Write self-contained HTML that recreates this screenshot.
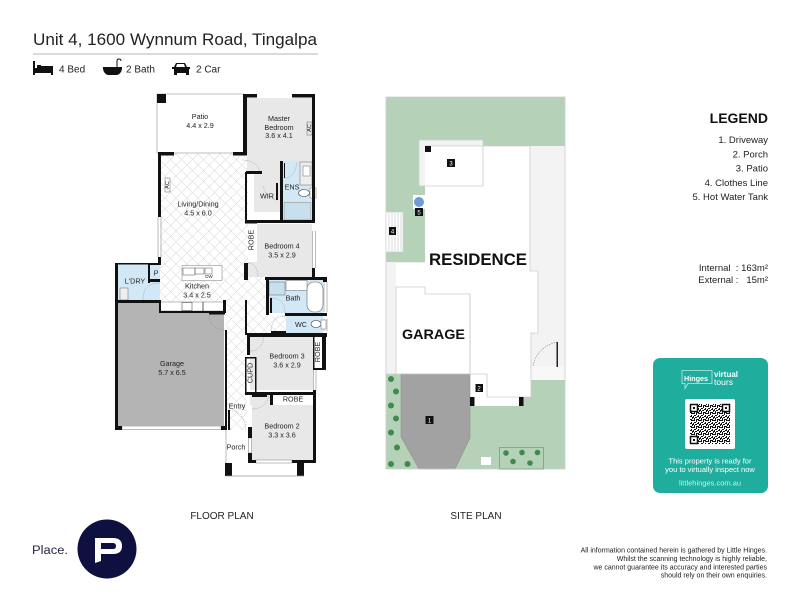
<!DOCTYPE html>
<html><head><meta charset="utf-8"><style>html,body{margin:0;padding:0;background:#fff}svg{display:block}text{font-family:"Liberation Sans",sans-serif;fill:#222;white-space:pre}</style></head><body>
<svg width="800" height="600" viewBox="0 0 800 600" xmlns="http://www.w3.org/2000/svg">
<defs>
<pattern id="tile" width="11" height="11" patternUnits="userSpaceOnUse"><rect width="11" height="11" fill="#fff"/><path d="M0 0L11 11M11 0L0 11" stroke="#dcdcdc" stroke-width=".6"/></pattern>
<pattern id="qr" width="7" height="7" patternUnits="userSpaceOnUse"><rect width="7" height="7" fill="#fff"/><path d="M0 0h2v1H0zM3 0h1v2H3zM5 0h2v1H5zM1 2h2v1H1zM5 2h1v2H5zM0 3h1v2H0zM2 4h2v1H2zM6 4h1v2H6zM1 5h1v2H1zM3 6h3v1H3zM4 3h1v1H4z" fill="#111"/></pattern>
</defs>
<rect width="800" height="600" fill="#fff"/>

<!-- Header -->
<text x="33" y="45" font-size="17" textLength="284" lengthAdjust="spacingAndGlyphs">Unit 4, 1600 Wynnum Road, Tingalpa</text>
<rect x="33" y="53.500" width="285" height="1" fill="#b5b5b5"/>
<g fill="#111">
<path d="M33 61h2v7h18v7h-2v-2H35v2h-2zM37 65h4v3h-4z"/><rect x="41" y="66" width="12" height="3"/>
<path d="M103 67h19v2q-1 5-5 6h-9q-4-1-5-6z"/><path d="M117 67v-6q0-2 2-2t2 2" fill="none" stroke="#111"/>
<path d="M172 67h2l2-4h9l2 4h3v2h-1v6h-3v-2h-9v2h-3v-6h-2zM177 64l-1 3h9l-1-3z" fill-rule="evenodd"/>
</g>
<g font-size="10">
<text x="59" y="72.500">4 Bed</text><text x="126" y="72.500">2 Bath</text><text x="196" y="72.500">2 Car</text>
</g>

<!-- Floor plan fills -->
<rect x="160" y="153" width="88" height="150" fill="url(#tile)"/>
<rect x="226" y="300" width="21" height="130" fill="url(#tile)"/>
<rect x="247" y="277" width="20" height="58" fill="url(#tile)"/>
<rect x="267" y="315" width="19" height="20" fill="url(#tile)"/>
<rect x="247" y="98" width="65" height="63" fill="#e8e8e8"/>
<rect x="247" y="161" width="34" height="11" fill="#e8e8e8"/>
<rect x="254" y="172" width="27" height="40" fill="#e8e8e8"/>
<rect x="283" y="161" width="29" height="41" fill="#d3e8f6"/>
<rect x="284" y="202.500" width="27" height="17.500" fill="#c8dfee" stroke="#888" stroke-width=".6"/>
<rect x="257" y="224" width="55" height="53" fill="#e8e8e8"/>
<rect x="248" y="262" width="10" height="15" fill="#e8e8e8"/>
<rect x="118" y="264" width="42" height="36" fill="#d3e8f6"/>
<rect x="118" y="303" width="106" height="123" fill="#b4b4b4"/>
<rect x="269" y="280" width="54" height="33" fill="#d3e8f6"/>
<rect x="286" y="316" width="37" height="17" fill="#d3e8f6"/>
<rect x="250" y="337" width="63" height="53" fill="#e8e8e8"/>
<rect x="252" y="405" width="61" height="55" fill="#e8e8e8"/>
<rect x="250" y="395" width="20" height="10" fill="#e8e8e8"/>

<!-- Outlines thin -->
<g fill="none" stroke="#aaa" stroke-width=".8">
<path d="M157 94H244M157 94V153M158 217V257M161 217V257M157 153H243"/>
<path d="M226 430V476"/>
<rect x="182" y="265.500" width="40" height="15" fill="#fff"/>
<rect x="183" y="268" width="12" height="7" stroke="#555" stroke-width=".5"/><rect x="195" y="268" width="9" height="6" stroke="#555" stroke-width=".5"/><rect x="205" y="268" width="7" height="6" stroke="#555" stroke-width=".5"/>
<rect x="160" y="302" width="64" height="9" fill="#fff"/>
<rect x="182" y="302.500" width="10" height="8" stroke="#555" stroke-width=".6"/>
<path d="M203 302V311" stroke="#333"/>
<rect x="122" y="426" width="99" height="3.500" fill="#fff"/>
<path d="M312.500 231V268M315.500 231V268M324 282V312M327 282V312M324 319V331M327 319V331M313.500 369V390M316 369V390"/>
<rect x="300" y="162" width="12" height="23" stroke="#999" fill="#eee"/>
<rect x="303" y="166" width="7" height="10" stroke="#666" stroke-width=".5" fill="#fff"/>
<ellipse cx="304" cy="193" rx="5.500" ry="3.500" stroke="#333" stroke-width=".6" fill="#fff"/>
<rect x="310" y="188" width="6" height="10" stroke="#777" stroke-width=".5" fill="#fff"/>
<rect x="307" y="122" width="5" height="13" stroke="#666" stroke-width=".5"/>
<rect x="165" y="178" width="5" height="14" stroke="#666" stroke-width=".5"/>
<rect x="120" y="288" width="8" height="12" stroke="#666" stroke-width=".5" fill="#eee"/>
<rect x="307" y="282" width="16" height="30" rx="7" stroke="#666" stroke-width=".6" fill="#fff"/>
<rect x="269" y="282" width="16" height="13" stroke="#666" stroke-width=".5" fill="#c8dfee"/>
<rect x="286" y="280.500" width="21" height="10" stroke="#666" stroke-width=".5" fill="#fff"/>
<ellipse cx="316" cy="324" rx="5" ry="3.500" stroke="#333" stroke-width=".6" fill="#fff"/>
<rect x="321" y="320" width="5" height="9" stroke="#777" stroke-width=".5" fill="#fff"/>
<rect x="248.500" y="438" width="3" height="15" fill="#fff"/>
<rect x="256" y="460" width="36" height="3" fill="#fff"/>
</g>
<g fill="none" stroke="#888" stroke-width=".5" stroke-dasharray="1.200 1">
<path d="M243 160q15 1 17 13M277 200q-10-1-14-14M285 178q10 0 12-16M160 283q-17 0-17 17M209 316q1 13 16 14M248 263q10 1 10 14M271 298q14 0 14 15M271 331q1-15 15-15M250 351q11 0 14-14M252 409q14 0 17-14M230 410q14 1 16 20"/>
</g>

<!-- Walls -->
<g fill="#111">
<rect x="157" y="94" width="9" height="9"/>
<rect x="243" y="94" width="4" height="60"/><rect x="243" y="94" width="14" height="3.500"/><rect x="292" y="94" width="23" height="3.500"/>
<rect x="312" y="94" width="3" height="127"/>
<rect x="158" y="152" width="3" height="65"/><rect x="158" y="152" width="16" height="3.500"/><rect x="233" y="152" width="14" height="3.500"/>
<rect x="158" y="257" width="3" height="8"/>
<rect x="246" y="171" width="16" height="3"/><rect x="245" y="172" width="2" height="50"/><rect x="245" y="220" width="70" height="3"/>
<rect x="280" y="161" width="3" height="60"/><rect x="284" y="163" width="1" height="15"/><rect x="276" y="183" width="2" height="17"/>
<rect x="244" y="263" width="4" height="17"/><rect x="245" y="222" width="12" height="1.500"/>
<rect x="115" y="263" width="3" height="167"/><rect x="115" y="263" width="33" height="1.500"/><rect x="116" y="300" width="44" height="3"/>
<rect x="148" y="265" width="2" height="18"/><rect x="148" y="279" width="12" height="3"/><rect x="148" y="263" width="12" height="2"/>
<rect x="159" y="300" width="2" height="13"/><rect x="159" y="311" width="67" height="2"/><rect x="223" y="300" width="3" height="13"/>
<rect x="209" y="313" width="16" height="1.500"/>
<rect x="225" y="330" width="2" height="100"/><rect x="115" y="426" width="7" height="4"/><rect x="221" y="426" width="6" height="4"/>
<rect x="265" y="277" width="62" height="3"/><rect x="312" y="268" width="3" height="10"/><rect x="266" y="279" width="3" height="36"/><rect x="323" y="280" width="4" height="2"/><rect x="285" y="313" width="42" height="3"/>
<rect x="270" y="298" width="2" height="15"/><rect x="271" y="331" width="15" height="2"/>
<rect x="245" y="300" width="2" height="35"/><rect x="247" y="333" width="80" height="4"/><rect x="247" y="337" width="3" height="18"/>
<rect x="245" y="357" width="1.500" height="36"/><rect x="245" y="392" width="71" height="3"/><rect x="252" y="395" width="15" height="2"/><rect x="270" y="394" width="3" height="11"/><rect x="255" y="357" width="1.500" height="36"/><rect x="245" y="357" width="10" height="1.500"/>
<rect x="313" y="390" width="3" height="72"/><rect x="313" y="337" width="1.500" height="31"/><rect x="322" y="333" width="4" height="37"/><rect x="313" y="368" width="12" height="2"/>
<rect x="248" y="427" width="4" height="11"/><rect x="248" y="453" width="4" height="10"/><rect x="248" y="460" width="8" height="3"/><rect x="292" y="460" width="24" height="3"/>
<rect x="225" y="463" width="7" height="13"/><rect x="297" y="463" width="7" height="13"/>
<rect x="228" y="410" width="2" height="20"/>
</g>
<path d="M226 476H304" stroke="#999" stroke-width=".8"/>

<!-- Floor labels -->
<g font-size="7.200" text-anchor="middle">
<text x="200" y="119">Patio</text><text x="200" y="128">4.4 x 2.9</text>
<text x="279" y="121">Master</text><text x="279" y="130">Bedroom</text><text x="279" y="138">3.6 x 4.1</text>
<text x="198" y="206.500">Living/Dining</text><text x="198" y="215.500">4.5 x 6.0</text>
<text x="282" y="248.500">Bedroom 4</text><text x="282" y="257.500">3.5 x 2.9</text>
<text x="197" y="288.500">Kitchen</text><text x="197" y="297.500">3.4 x 2.5</text>
<text x="172" y="366">Garage</text><text x="172" y="375">5.7 x 6.5</text>
<text x="287" y="358.500">Bedroom 3</text><text x="287" y="367.500">3.6 x 2.9</text>
<text x="282" y="428.500">Bedroom 2</text><text x="282" y="437.500">3.3 x 3.6</text>
<text x="293" y="300.500">Bath</text><text x="301" y="327">WC</text><text x="292" y="189.500">ENS</text><text x="267" y="198.500">WIR</text>
<text x="135" y="283.500">L'DRY</text><text x="156" y="275.500">P</text>
<text x="237" y="408.500">Entry</text><text x="236" y="449.500">Porch</text><text x="293" y="401.500">ROBE</text>
<text transform="translate(253.500 240) rotate(-90)">ROBE</text>
<text transform="translate(320 352) rotate(-90)">ROBE</text>
<text transform="translate(252.500 373) rotate(-90)">CUPD</text>
<text transform="translate(311 128) rotate(-90)" font-size="5.500">AC</text>
<text transform="translate(169 185) rotate(-90)" font-size="5.500">AC</text>
<text x="209" y="278" font-size="4.500">DW</text>
</g>
<text x="222" y="519" font-size="10" text-anchor="middle">FLOOR PLAN</text>

<!-- Site plan -->
<path d="M386 97H565V146H483V140H419V186H425V262H386Z" fill="#b5d2b8"/>
<path d="M386 374H565V469H386Z" fill="#b5d2b8"/>
<path d="M483 146H530V271H538V333H531V380H470V374H470V294H425V287H396V262H425V186H483Z" fill="#fff"/>
<path d="M530 146H565V366H531V333H538V271H530Z" fill="#f3f3f3"/>
<path d="M386 262H396V374H386Z" fill="#f3f3f3"/>
<path d="M396 287H425V294H470V374H396Z" fill="#fff"/>
<path d="M531 366H565V380H531Z" fill="#f8f8f8"/>
<path d="M470 374H487V397H531V380V397H519V406H470Z" fill="#fff"/>
<path d="M487 374H531V397H487Z" fill="#fff"/>
<path d="M419 140H483V146H425V186H419Z" fill="#f3f3f3"/>
<path d="M401 374H470V438L455 469H419L401 437Z" fill="#a2a2a2" stroke="#888" stroke-width=".5"/>
<g fill="none" stroke="#ccc" stroke-width=".8">
<path d="M386 97H565V469H386V97"/>
<path d="M419 140H483V186H425M419 140V186H425M425 146H483"/>
<path d="M483 146H530V271H538V333H531V397H487V374H470V294H425V287H396V374M396 262H425M386 374H470"/>
<path d="M470 294V374"/>
</g>
<rect x="386" y="212" width="17" height="40" fill="#fff" stroke="#ccc" stroke-width=".6"/>
<path d="M389 212v40M392 212v40M395 212v40M398 212v40M401 212v40" stroke="#ccc" stroke-width=".7"/>
<rect x="413" y="195" width="12" height="14" fill="#fff"/>
<circle cx="419" cy="202" r="5" fill="#6f9bd6"/>
<rect x="425" y="146" width="6" height="6" fill="#111"/>
<path d="M533 366q4-19 24-24" fill="none" stroke="#888" stroke-width=".6" stroke-dasharray="1.500 1"/>
<rect x="556.500" y="342" width="1.500" height="25" fill="#222"/>
<rect x="470" y="397" width="4.500" height="9" fill="#111"/><rect x="519" y="397" width="4.500" height="9" fill="#111"/>
<rect x="481" y="457" width="10" height="8" fill="#fff"/>
<rect x="499.500" y="447.500" width="44" height="21.500" fill="none" stroke="#7d9b80" stroke-width=".8"/>
<g fill="#3f8a4c">
<circle cx="391" cy="379" r="3"/><circle cx="396" cy="391.500" r="3"/><circle cx="391" cy="405.500" r="3"/><circle cx="396" cy="418.500" r="3"/><circle cx="391" cy="432.500" r="3"/><circle cx="397" cy="447.500" r="3"/><circle cx="391" cy="464" r="3"/><circle cx="407.500" cy="464" r="3"/>
<circle cx="506" cy="453" r="2.800"/><circle cx="522" cy="452.500" r="2.800"/><circle cx="537.500" cy="452.500" r="2.800"/><circle cx="513" cy="461.500" r="2.800"/><circle cx="530" cy="463" r="2.800"/>
</g>
<g fill="#111"><rect x="447" y="159" width="8" height="8"/><rect x="415" y="208" width="8" height="8"/><rect x="389" y="227" width="7" height="8"/><rect x="475.500" y="384" width="7.500" height="8"/><rect x="425.500" y="416" width="8" height="8"/></g>
<g font-size="6" text-anchor="middle">
<text x="451" y="165.500" style="fill:#fff">3</text><text x="419" y="214.500" style="fill:#fff">5</text><text x="392.500" y="233.500" style="fill:#fff">4</text><text x="479" y="390.500" style="fill:#fff">2</text><text x="429.500" y="422.500" style="fill:#fff">1</text>
</g>
<text x="478" y="265" font-size="16.500" font-weight="bold" text-anchor="middle" textLength="98" lengthAdjust="spacingAndGlyphs" style="fill:#111">RESIDENCE</text>
<text x="433.500" y="339" font-size="14" font-weight="bold" text-anchor="middle" textLength="63" lengthAdjust="spacingAndGlyphs" style="fill:#111">GARAGE</text>
<text x="476" y="519" font-size="10" text-anchor="middle">SITE PLAN</text>

<!-- Legend -->
<text x="768" y="123" font-size="14" font-weight="bold" text-anchor="end" style="fill:#111">LEGEND</text>
<g font-size="9.500" text-anchor="end">
<text x="768" y="143">1. Driveway</text><text x="768" y="157.500">2. Porch</text><text x="768" y="171.500">3. Patio</text><text x="768" y="186">4. Clothes Line</text><text x="768" y="200">5. Hot Water Tank</text>
<text x="768" y="271" xml:space="preserve">Internal  : 163m²</text><text x="768" y="283" xml:space="preserve">External :   15m²</text>
</g>

<!-- Card -->
<rect x="653" y="358" width="115" height="135" rx="7" fill="#1fae9e"/>
<path d="M682 370.500h30v13h-24l-3 5v-5h-3z" fill="none" stroke="#bfe8e1" stroke-width=".8"/>
<text x="696" y="381" font-size="7" font-weight="bold" text-anchor="middle" textLength="24" lengthAdjust="spacingAndGlyphs" style="fill:#fff">Hinges</text>
<text x="714" y="377" font-size="8" font-weight="bold" textLength="24" lengthAdjust="spacingAndGlyphs" style="fill:#fff">virtual</text>
<text x="714" y="385" font-size="8" textLength="19" lengthAdjust="spacingAndGlyphs" style="fill:#fff">tours</text>
<rect x="685" y="399" width="50" height="50" rx="2" fill="#fff"/>
<rect x="690" y="404" width="40" height="40" fill="url(#qr)"/>
<g fill="#fff" stroke="#111" stroke-width="1.500"><rect x="690.500" y="404.500" width="7" height="7"/><rect x="722.500" y="404.500" width="7" height="7"/><rect x="690.500" y="436.500" width="7" height="7"/></g>
<g fill="#111"><rect x="693" y="407" width="2" height="2"/><rect x="725" y="407" width="2" height="2"/><rect x="693" y="439" width="2" height="2"/></g>
<g font-size="7.500" text-anchor="middle">
<text x="710" y="463.500" style="fill:#fff">This property is ready for</text>
<text x="710" y="472" style="fill:#fff">you to virtually inspect now</text>
<text x="710" y="485.500" style="fill:#cdeee9">littlehinges.com.au</text>
</g>

<!-- Footer -->
<text x="32" y="554" font-size="11.500" textLength="36" lengthAdjust="spacingAndGlyphs" style="fill:#26264a">Place.</text>
<circle cx="107" cy="549" r="29.500" fill="#0e1140"/>
<path d="M95 538H113Q122 538 122 546Q122 554 113 554H101V561L95 563ZM101 543V549H113Q116 549 116 546Q116 543 113 543Z" fill="#fff" fill-rule="evenodd"/>
<g font-size="7" text-anchor="end">
<text x="767" y="552.500">All information contained herein is gathered by Little Hinges.</text>
<text x="767" y="561">Whilst the scanning technology is highly reliable,</text>
<text x="767" y="569.500">we cannot guarantee its accuracy and interested parties</text>
<text x="767" y="577.500">should rely on their own enquiries.</text>
</g>
</svg>
</body></html>
